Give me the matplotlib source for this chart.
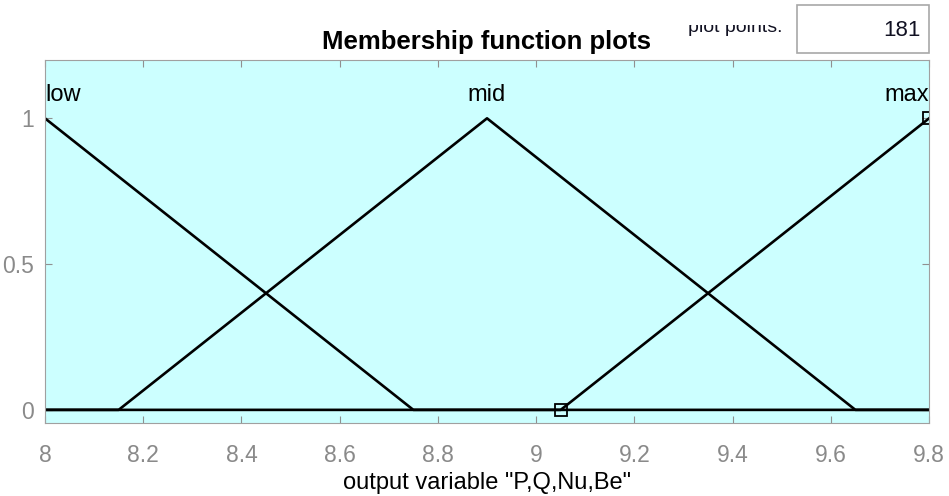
import numpy as np
import matplotlib
matplotlib.use('Agg')
import matplotlib.pyplot as plt
from matplotlib.patches import Rectangle

plt.rcParams['font.family'] = ['Liberation Sans', 'DejaVu Sans']

# membership function vertices (output variable "P,Q,Nu,Be")
low_x = [8.0, 8.75, 9.8]
low_y = [1.0, 0.0, 0.0]
mid_x = [8.0, 8.15, 8.9, 9.65, 9.8]
mid_y = [0.0, 0.0, 1.0, 0.0, 0.0]
max_x = [8.0, 9.05, 9.8]
max_y = [0.0, 0.0, 1.0]
mf_names = ['low', 'mid', 'max']
mf_peaks = [8.0, 8.9, 9.8]
sel_x = [9.05, 9.8]  # handles on the selected MF
sel_y = [0.0, 1.0]

xticks = [8, 8.2, 8.4, 8.6, 8.8, 9, 9.2, 9.4, 9.6, 9.8]
xticklabels = ['8', '8.2', '8.4', '8.6', '8.8', '9', '9.2', '9.4', '9.6', '9.8']
yticks = [0, 0.5, 1]
yticklabels = ['0', '0.5', '1']
plot_points = 181

fig = plt.figure(figsize=(9.49, 4.96), dpi=100)
ax = fig.add_axes([0.0474, 0.1472, 0.9316, 0.7318])
ax.set_facecolor('#ccffff')

ax.plot(low_x, low_y, color='k', lw=1.9)
ax.plot(mid_x, mid_y, color='k', lw=1.9)
ax.plot(max_x, max_y, color='k', lw=1.9)
ax.plot(sel_x, sel_y, linestyle='none', marker='s', ms=8, mfc='none', mec='k', mew=1.3)

ax.set_xlim(8, 9.8)
ax.set_ylim(-0.045, 1.2)
ax.set_xticks(xticks)
ax.set_xticklabels(xticklabels)
ax.set_yticks(yticks)
ax.set_yticklabels(yticklabels)
ax.tick_params(direction='in', top=True, right=True, length=5, color='#909090',
               labelcolor='#8a8a8a', labelsize=16.5)
ax.tick_params(axis='x', pad=15)
ax.tick_params(axis='y', pad=8)
for s in ax.spines.values():
    s.set_color('#a0a0a0')

# MF names above each peak
aligns = ['left', 'center', 'right']
for name, px, ha in zip(mf_names, mf_peaks, aligns):
    ax.text(px, 1.08, name, ha=ha, va='center', fontsize=17, color='k')

ax.set_xlabel('output variable "P,Q,Nu,Be"', fontsize=17, labelpad=4)
fig.text(0.513, 1 - 42 / 496, 'Membership function plots', ha='center', va='center',
         fontsize=18.5, fontweight='bold')

# "plot points" control with its top clipped off
fig.text(735 / 949, 1 - 32 / 496, 'plot points:', ha='center', va='baseline',
         fontsize=14, color='#111122')
fig.patches.append(Rectangle((0.68, 1 - 25 / 496), 0.15, 25 / 496, transform=fig.transFigure,
                             facecolor='white', edgecolor='none', zorder=5))
fig.patches.append(Rectangle((797 / 949, 1 - 53 / 496), 132 / 949, 48 / 496,
                             transform=fig.transFigure, facecolor='white',
                             edgecolor='#a8a8a8', lw=1.2, zorder=6))
fig.text(921 / 949, 1 - 30 / 496, str(plot_points), ha='right', va='center',
         fontsize=16, color='#111122', zorder=7)

fig.savefig('out.png', dpi=100)
